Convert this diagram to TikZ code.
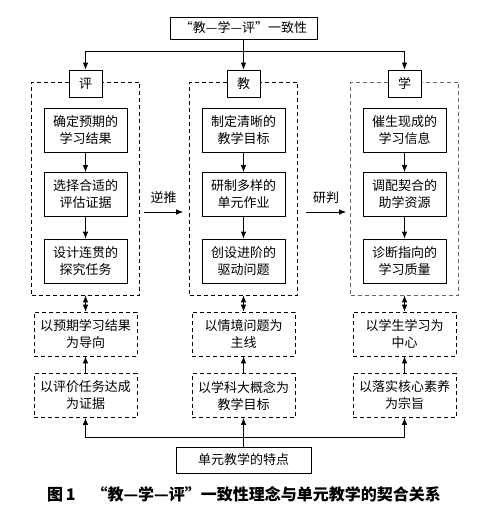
\documentclass[tikz,border=0pt]{standalone}
\usepackage{fontspec}
\setmainfont{Noto Sans CJK SC}
\usetikzlibrary{arrows.meta}
\begin{document}
\begin{tikzpicture}[x=1pt,y=-1pt, font=\fontsize{13}{17}\selectfont,
 box/.style={draw, line width=0.8pt, align=center, inner sep=0pt},
 dbox/.style={draw, dash pattern=on 4pt off 3pt, line width=0.7pt, align=center, inner sep=0pt},
 inbox/.style={box, minimum width=83pt, minimum height=44pt},
 lbox/.style={box, fill=white, minimum width=33pt, minimum height=27pt},
 grp/.style={dbox, minimum width=108pt, minimum height=213pt},
 rowbox/.style={dbox, minimum width=103pt, minimum height=44pt},
 arr/.style={-{Latex[length=7pt,width=5.5pt]}, line width=0.8pt},
 darr/.style={{Latex[length=7pt,width=5.5pt]}-{Latex[length=7pt,width=5.5pt]}, line width=0.8pt}]
\useasboundingbox (0,0) rectangle (494,512);

% groups
\node[grp] (gL) at (85.5,188.5) {};
\node[grp] (gM) at (243.5,188.5) {};
\node[grp, draw=black!60] (gR) at (404.5,188.5) {};

% top
\node[box, minimum width=147pt, minimum height=22pt] (top) at (243.5,28) {“教—学—评”一致性};
\node[lbox] (lP) at (85.5,83.5) {评};
\node[lbox] (lM) at (243.5,83.5) {教};
\node[lbox] (lR) at (404.5,83.5) {学};
\coordinate (tj) at (243.5,51);
\draw[line width=0.8pt] (top.south) -- (tj);
\draw[arr] (tj) -- (lM.north);
\draw[arr] (tj) -| (lP.north);
\draw[arr] (tj) -| (lR.north);

% inner boxes
\node[inbox] (p1) at (85.5,130) {确定预期的\\学习结果};
\node[inbox] (p2) at (85.5,194.5) {选择合适的\\评估证据};
\node[inbox] (p3) at (85.5,261) {设计连贯的\\探究任务};
\node[inbox] (m1) at (243.5,130) {制定清晰的\\教学目标};
\node[inbox] (m2) at (243.5,194.5) {研制多样的\\单元作业};
\node[inbox] (m3) at (243.5,261) {创设进阶的\\驱动问题};
\node[inbox] (r1) at (404.5,130) {催生现成的\\学习信息};
\node[inbox] (r2) at (404.5,194.5) {调配契合的\\助学资源};
\node[inbox] (r3) at (404.5,261) {诊断指向的\\学习质量};
\foreach \a/\b in {p1/p2,p2/p3,m1/m2,m2/m3,r1/r2,r2/r3}
  \draw[arr] (\a) -- (\b);

% side arrows
\draw[arr] ([shift={(4,23.5)}]gL.east) -- ([shift={(-6,23.5)}]gM.west) node[midway, yshift=14pt] (nt) {逆推};
\draw[arr] ([shift={(8,23.5)}]gM.east) -- ([shift={(-4,23.5)}]gR.west) node[midway, yshift=14pt] (yp) {研判};

% bottom rows
\node[rowbox] (b1) at (85.5,334) {以预期学习结果\\为导向};
\node[rowbox] (b2) at (243.5,334) {以情境问题为\\主线};
\node[rowbox] (b3) at (404.5,334) {以学生学习为\\中心};
\node[rowbox] (c1) at (85.5,395.5) {以评价任务达成\\为证据};
\node[rowbox] (c2) at (243.5,395.5) {以学科大概念为\\教学目标};
\node[rowbox] (c3) at (404.5,395.5) {以落实核心素养\\为宗旨};
\draw[darr] (gL.south) -- (b1.north);
\draw[darr] (gM.south) -- (b2.north);
\draw[darr] (gR.south) -- (b3.north);
\draw[arr] (c1.north) -- (b1.south);
\draw[arr] (c2.north) -- (b2.south);
\draw[arr] (c3.north) -- (b3.south);

% base
\node[box, minimum width=135pt, minimum height=26pt] (base) at (243.5,460) {单元教学的特点};
\coordinate (bj) at (243.5,437);
\draw[line width=0.8pt] (base.north) -- (bj);
\draw[arr] (bj) -- (c2.south);
\draw[arr] (bj) -| (c1.south);
\draw[arr] (bj) -| (c3.south);

% caption
\node[font=\fontsize{16}{16}\selectfont\bfseries] (cap) at (244,494) {图\,1\quad “教—学—评”一致性理念与单元教学的契合关系};
\end{tikzpicture}
\end{document}
